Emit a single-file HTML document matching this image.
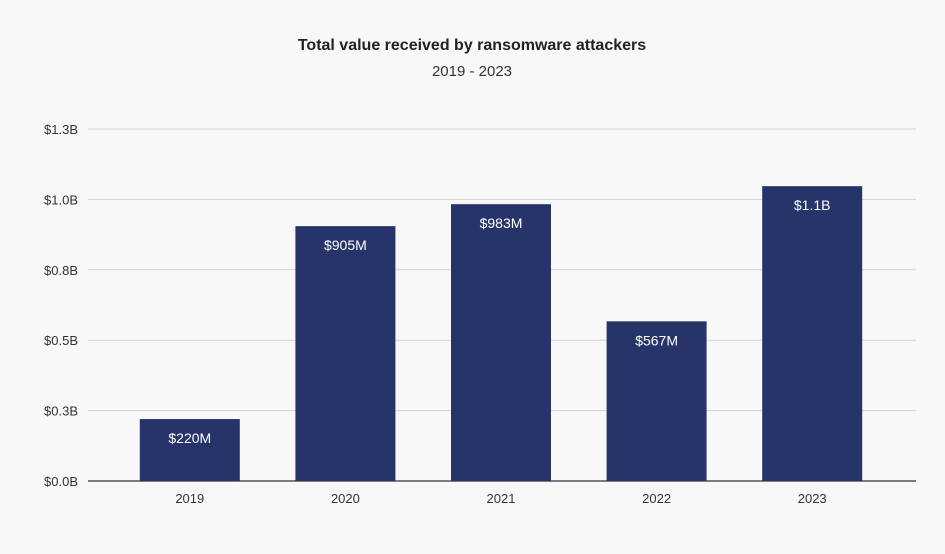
<!DOCTYPE html>
<html><head><meta charset="utf-8"><style>
body{margin:0;background:#f8f8f8;}
svg{display:block;font-family:"Liberation Sans",sans-serif;}
</style></head><body>
<svg id="chart" width="945" height="554">
<rect width="945" height="554" fill="#f8f8f8"/>
<text x="472" y="50" text-anchor="middle" font-size="16" font-weight="bold" fill="#222">Total value received by ransomware attackers</text>
<text x="472" y="76" text-anchor="middle" font-size="15" fill="#333">2019 - 2023</text>
<g id="grid"></g><g id="bars"></g><g id="labels"></g>
</svg>
<script>
const categories=["2019","2020","2021","2022","2023"];
const values=[220,905,983,567,1047];
const valueLabels=["$220M","$905M","$983M","$567M","$1.1B"];
const tickValues=[0,250,500,750,1000,1250];
const tickLabels=["$0.0B","$0.3B","$0.5B","$0.8B","$1.0B","$1.3B"];
const NS="http://www.w3.org/2000/svg";
const y0=481,pxPer=70.4/250;
function yScale(v){return y0-v*pxPer;}
const plotL=112,band=155.6;
function xCenter(i){return plotL+band*(i+0.5);}
function mk(t,a,p,txt){const e=document.createElementNS(NS,t);for(const k in a)e.setAttribute(k,a[k]);if(txt!=null)e.textContent=txt;p.appendChild(e);return e;}
const grid=document.getElementById('grid'),bars=document.getElementById('bars'),labels=document.getElementById('labels');
tickValues.forEach((v,i)=>{
 const y=yScale(v);
 const l=mk('line',{x1:88,x2:916,y1:y,y2:y,stroke:i===0?'#333':'#d4d4d4','stroke-width':i===0?1.2:1},grid);
 
 
 const t=mk('text',{x:78,y:y+5,'text-anchor':'end','font-size':13,fill:'#333'},grid,tickLabels[i]);
 
 
});
categories.forEach((c,i)=>{
 const cx=xCenter(i),y=yScale(values[i]);
 const r=mk('rect',{x:cx-50,y:y,width:100,height:y0-y,fill:'#273469'},bars);
 
 
 const v=mk('text',{x:cx,y:y+24,'text-anchor':'middle','font-size':14,fill:'#fff'},labels,valueLabels[i]);
 
 
 const t=mk('text',{x:cx,y:503,'text-anchor':'middle','font-size':13,fill:'#333'},labels,c);
 
 
});
</script>
</body></html>
